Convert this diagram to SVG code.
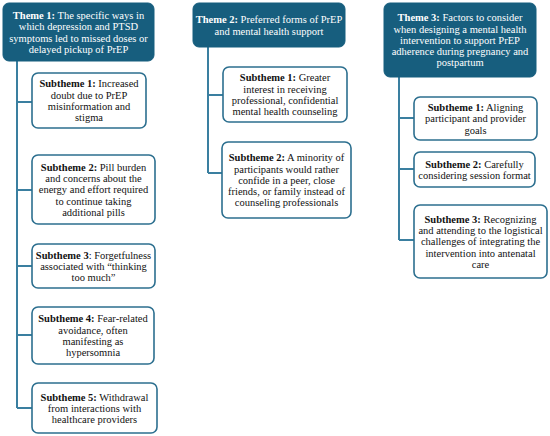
<svg xmlns="http://www.w3.org/2000/svg" width="550" height="436" viewBox="0 0 550 436">
<style>
.theme{fill:#175e7e;stroke:#175e7e;stroke-width:1}
.sub{fill:#ffffff;stroke:#2c6f8f;stroke-width:1.6}
.conn{fill:none;stroke:#3a7fa0;stroke-width:2}
text{font-family:'Liberation Serif',serif;font-size:10.5px;text-anchor:middle}
.tw{fill:#ffffff}
.tb{fill:#111111}
.b{font-weight:bold}
</style>
<rect width="550" height="436" fill="#ffffff"/>
<g id="connectors">
<path class="conn" d="M17,61 V408 M17,102 H32 M17,190 H32 M17,266 H32 M17,335 H32 M17,408 H32"/>
<path class="conn" d="M208,47 V173 M208,95 H223 M208,173 H222"/>
<path class="conn" d="M399,77 V240 M399,118 H414 M399,169 H414 M399,240 H414"/>
</g>
<g id="theme1">
<rect class="theme" x="3" y="3" width="151" height="58" rx="6"/>
<text class="tw"><tspan x="78.5" y="19"><tspan class="b">Theme 1:</tspan> The specific ways in</tspan><tspan x="78.5" y="30.3">which depression and PTSD</tspan><tspan x="78.5" y="41.6">symptoms led to missed doses or</tspan><tspan x="78.5" y="52.9">delayed pickup of PrEP</tspan></text>
</g>
<g id="t1s1">
<rect class="sub" x="32" y="73" width="114" height="55" rx="6"/>
<text class="tb"><tspan x="89" y="87.4"><tspan class="b">Subtheme 1:</tspan> Increased</tspan><tspan x="89" y="98.7">doubt due to PrEP</tspan><tspan x="89" y="110">misinformation and</tspan><tspan x="89" y="121.3">stigma</tspan></text>
</g>
<g id="t1s2">
<rect class="sub" x="32" y="155" width="123" height="69" rx="6"/>
<text class="tb"><tspan x="93.5" y="170.7"><tspan class="b">Subtheme 2:</tspan> Pill burden</tspan><tspan x="93.5" y="182">and concerns about the</tspan><tspan x="93.5" y="193.3">energy and effort required</tspan><tspan x="93.5" y="204.6">to continue taking</tspan><tspan x="93.5" y="215.9">additional pills</tspan></text>
</g>
<g id="t1s3">
<rect class="sub" x="32" y="244" width="123" height="44" rx="6"/>
<text class="tb"><tspan x="93.5" y="258.5"><tspan class="b">Subtheme 3</tspan>: Forgetfulness</tspan><tspan x="93.5" y="269.8">associated with “thinking</tspan><tspan x="93.5" y="281.1">too much”</tspan></text>
</g>
<g id="t1s4">
<rect class="sub" x="32" y="307" width="122" height="57" rx="6"/>
<text class="tb"><tspan x="93" y="322.4"><tspan class="b">Subtheme 4:</tspan> Fear-related</tspan><tspan x="93" y="333.7">avoidance, often</tspan><tspan x="93" y="345">manifesting as</tspan><tspan x="93" y="356.3">hypersomnia</tspan></text>
</g>
<g id="t1s5">
<rect class="sub" x="32" y="383" width="125" height="50" rx="6"/>
<text class="tb"><tspan x="94.5" y="400.5"><tspan class="b">Subtheme 5:</tspan> Withdrawal</tspan><tspan x="94.5" y="411.8">from interactions with</tspan><tspan x="94.5" y="423.1">healthcare providers</tspan></text>
</g>
<g id="theme2">
<rect class="theme" x="193" y="3" width="152" height="44" rx="6"/>
<text class="tw"><tspan x="269" y="23.2"><tspan class="b">Theme 2:</tspan> Preferred forms of PrEP</tspan><tspan x="269" y="34.5">and mental health support</tspan></text>
</g>
<g id="t2s1">
<rect class="sub" x="223" y="67" width="124" height="55" rx="6"/>
<text class="tb"><tspan x="285" y="81.4"><tspan class="b">Subtheme 1:</tspan> Greater</tspan><tspan x="285" y="92.7">interest in receiving</tspan><tspan x="285" y="104">professional, confidential</tspan><tspan x="285" y="115.3">mental health counseling</tspan></text>
</g>
<g id="t2s2">
<rect class="sub" x="222" y="142" width="129" height="76" rx="6"/>
<text class="tb"><tspan x="286.5" y="161.2"><tspan class="b">Subtheme 2:</tspan> A minority of</tspan><tspan x="286.5" y="172.5">participants would rather</tspan><tspan x="286.5" y="183.8">confide in a peer, close</tspan><tspan x="286.5" y="195.1">friends, or family instead of</tspan><tspan x="286.5" y="206.4">counseling professionals</tspan></text>
</g>
<g id="theme3">
<rect class="theme" x="384" y="3" width="152" height="74" rx="6"/>
<text class="tw"><tspan x="460" y="21.2"><tspan class="b">Theme 3:</tspan> Factors to consider</tspan><tspan x="460" y="32.5">when designing a mental health</tspan><tspan x="460" y="43.8">intervention to support PrEP</tspan><tspan x="460" y="55.1">adherence during pregnancy and</tspan><tspan x="460" y="66.4">postpartum</tspan></text>
</g>
<g id="t3s1">
<rect class="sub" x="414" y="97" width="123" height="43" rx="6"/>
<text class="tb"><tspan x="475.5" y="111"><tspan class="b">Subtheme 1:</tspan> Aligning</tspan><tspan x="475.5" y="122.3">participant and provider</tspan><tspan x="475.5" y="133.6">goals</tspan></text>
</g>
<g id="t3s2">
<rect class="sub" x="414" y="152" width="121" height="35" rx="6"/>
<text class="tb"><tspan x="474.5" y="167.6"><tspan class="b">Subtheme 2:</tspan> Carefully</tspan><tspan x="474.5" y="178.9">considering session format</tspan></text>
</g>
<g id="t3s3">
<rect class="sub" x="414" y="205" width="133" height="73" rx="6"/>
<text class="tb"><tspan x="480.5" y="222.7"><tspan class="b">Subtheme 3:</tspan> Recognizing</tspan><tspan x="480.5" y="234">and attending to the logistical</tspan><tspan x="480.5" y="245.3">challenges of integrating the</tspan><tspan x="480.5" y="256.6">intervention into antenatal</tspan><tspan x="480.5" y="267.9">care</tspan></text>
</g>
</svg>
